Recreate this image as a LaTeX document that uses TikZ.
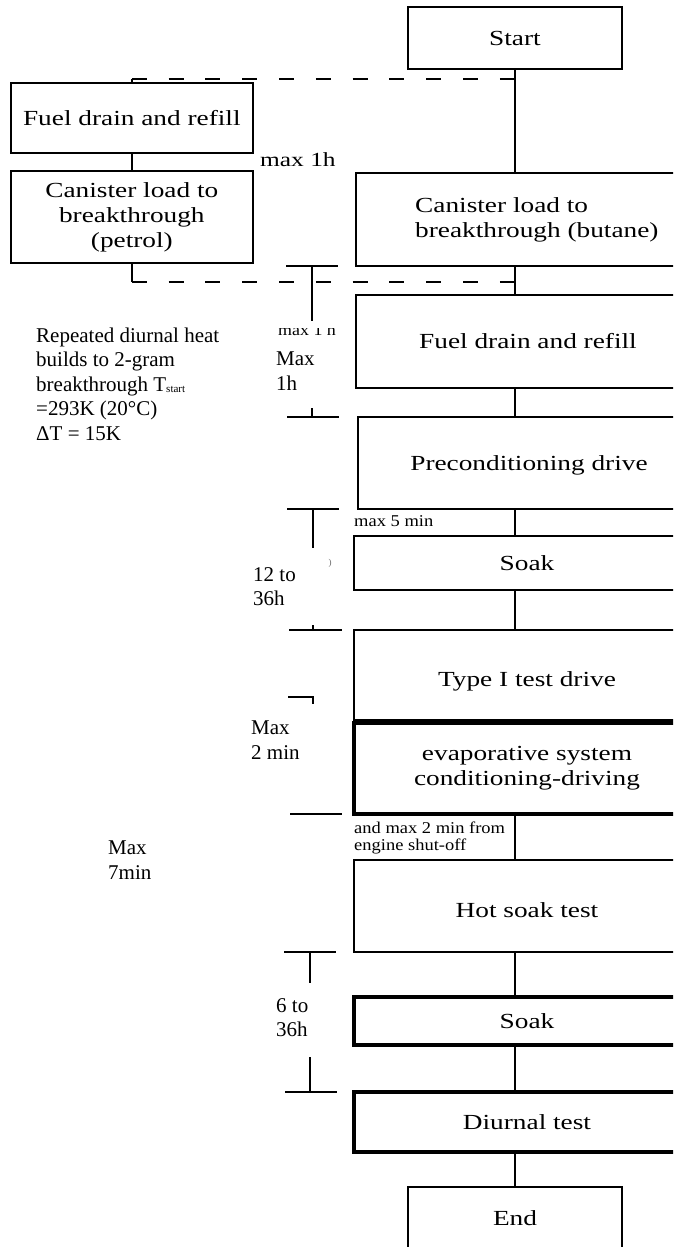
\documentclass[tikz,border=0pt]{standalone}
\usepackage{fontspec}
\setmainfont{Liberation Serif}
\newfontfamily\boxfont{Liberation Serif}[FakeStretch=1.27]
\newfontfamily\smallfont{Liberation Serif}[FakeStretch=1.12]
\newcommand\bxf{\boxfont\fontsize{21.5}{25}\selectfont}
\newcommand\lblf{\fontsize{21}{24.5}\selectfont}
\newcommand\smf{\smallfont\fontsize{16.5}{17}\selectfont}
\begin{document}
\begin{tikzpicture}[x=1pt,y=-1pt,
  box/.style={draw, line width=2pt, inner sep=0pt, align=center, font=\bxf},
  thickbox/.style={box, line width=4pt},
  conn/.style={line width=1.5pt},
  dimline/.style={line width=1.8pt},
  dashline/.style={line width=1.7pt, dash pattern=on 15pt off 21.8pt},
  lbl/.style={inner sep=0pt, align=left, font=\lblf},
  sml/.style={inner sep=0pt, align=left, font=\smf}]
\useasboundingbox (0,0) rectangle (673,1247);
\clip (0,0) rectangle (673,1247);

% boxes
\node[box, minimum width=214, minimum height=62] (start) at (515,38) {Start};
\node[box, minimum width=242.3, minimum height=70] (fdl) at (131.85,118) {Fuel drain and refill};
\node[box, minimum width=242.3, minimum height=92] (petrol) at (131.85,217) {Canister load to\\breakthrough\\(petrol)};
\node[box, minimum width=344, minimum height=93] (butane) at (528,219.5) {};
\node[inner sep=0pt, align=left, font=\bxf, anchor=north west] (butanetxt) at (415,197.3) {Canister load to\\breakthrough (butane)};
\node[box, minimum width=344, minimum height=93] (fdr) at (528,341.5) {Fuel drain and refill};
\node[box, minimum width=342, minimum height=92] (precond) at (529,463) {\raisebox{-7pt}[0pt][0pt]{Preconditioning drive}};
\node[box, minimum width=346, minimum height=54] (soaka) at (527,563) {Soak};
\node[box, minimum width=346, minimum height=90] (typei) at (527,675) {\raisebox{-11pt}[0pt][0pt]{Type I test drive}};
\node[thickbox, minimum width=346, minimum height=91] (evap) at (527,768.5) {evaporative system\\conditioning-driving};
\node[box, minimum width=346, minimum height=92] (hotsoak) at (527,906) {\raisebox{-11.3pt}[0pt][0pt]{Hot soak test}};
\node[thickbox, minimum width=346, minimum height=48] (soakb) at (527,1021) {Soak};
\node[thickbox, minimum width=346, minimum height=60] (diurnal) at (527,1122) {Diurnal test};
\node[box, minimum width=214, minimum height=63] (endbox) at (515,1218.5) {End};

% connectors
\coordinate (dtop) at (515,79);
\coordinate (dbot) at (515,282);
\coordinate (dtopl) at (131.85,79);
\coordinate (dbotl) at (131.85,282);
\draw[conn] (start.south) -- (start.south |- butane.north);
\draw[conn] (start.south |- butane.south) -- (start.south |- fdr.north);
\draw[conn] (start.south |- fdr.south) -- (start.south |- precond.north);
\draw[conn] (start.south |- precond.south) -- (start.south |- soaka.north);
\draw[conn] (start.south |- soaka.south) -- (start.south |- typei.north);
\draw[conn] (start.south |- evap.south) -- (start.south |- hotsoak.north);
\draw[conn] (start.south |- hotsoak.south) -- (start.south |- soakb.north);
\draw[conn] (start.south |- soakb.south) -- (start.south |- diurnal.north);
\draw[conn] (start.south |- diurnal.south) -- (endbox.north);
\draw[conn] (fdl.south) -- (petrol.north);
\draw[conn] (fdl.north) -- (dtopl);
\draw[dashline] (dtopl) -- (dtop);
\draw[conn] (petrol.south) -- (dbotl);
\draw[dashline] (dbotl) -- (dbot);

% dimension marks
\draw[dimline] (286,266) -- (338,266) (312,266) -- (312,321);
\draw[dimline] (312,408) -- (312,417) (287,417) -- (339,417);
\draw[dimline] (287,509) -- (339,509) (313,509) -- (313,548);
\draw[dimline] (313,625) -- (313,630) (289,630) -- (342,630);
\draw[dimline] (288,697) -- (313,697) -- (313,704);
\draw[dimline] (290,814) -- (342,814);
\draw[dimline] (284,952) -- (336,952) (310,952) -- (310,983);
\draw[dimline] (310,1057) -- (310,1092) (285,1092) -- (337,1092);

% labels
\node[inner sep=0pt, anchor=base west, font=\boxfont\fontsize{20}{24}\selectfont] (maxa) at (260,166) {max 1h};
\node[lbl, anchor=north west] (note) at (36,327.5) {Repeated diurnal heat\\builds to 2-gram\\breakthrough T\raisebox{-1.5pt}{\fontsize{11}{11}\selectfont start}\\=293K (20°C)\\ΔT = 15K};
\node[lbl, anchor=north west] (maxb) at (276,352) {Max\\1h};
\node[lbl, anchor=north west] (twelve) at (253,567) {12 to\\36h};
\node[lbl, anchor=north west] (maxc) at (251,721) {Max\\2 min};
\node[lbl, anchor=north west] (maxd) at (108,841) {Max\\7min};
\node[lbl, anchor=north west] (six) at (276,998) {6 to\\36h};
\node[sml, anchor=base west] (maxfive) at (354,526) {max 5 min};
\node[sml, anchor=north west] (shutoff) at (354,821.7) {and max 2 min from\\engine shut-off};
\begin{scope}
\clip (270,328.5) rectangle (345,345);
\node[inner sep=0pt, anchor=base west, font=\smallfont\fontsize{16}{16}\selectfont] (tiny) at (278,335) {max 1 h};
\end{scope}
\node[inner sep=0pt, font=\fontsize{9}{9}\selectfont, text=black!60] (paren) at (330,563) {)};
\end{tikzpicture}
\end{document}
